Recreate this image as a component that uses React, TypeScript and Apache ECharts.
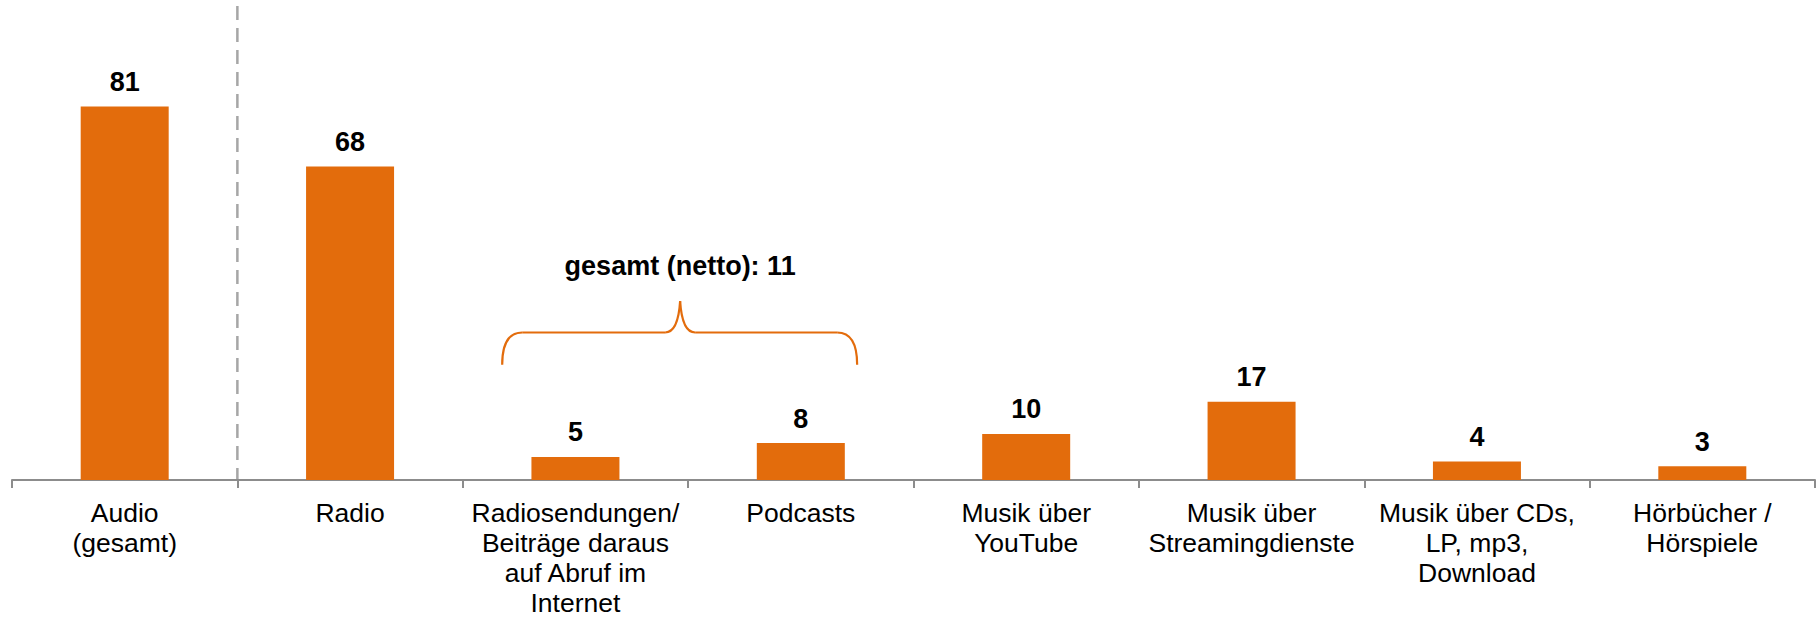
import React, { useEffect, useRef } from "react";
import * as echarts from "echarts";

const categories = [
  "Audio\n(gesamt)",
  "Radio",
  "Radiosendungen/\nBeiträge daraus\nauf Abruf im\nInternet",
  "Podcasts",
  "Musik über\nYouTube",
  "Musik über\nStreamingdienste",
  "Musik über CDs,\nLP, mp3,\nDownload",
  "Hörbücher /\nHörspiele",
];
const values = [81, 68, 5, 8, 10, 17, 4, 3];
const groupLabel = "gesamt (netto): 11";
const groupIndices = [2, 3];

const ORANGE = "#E36C0C";
const FONT = "'Liberation Sans', Arial, sans-serif";

export default function App() {
  const ref = useRef<HTMLDivElement>(null);
  useEffect(() => {
    if (!ref.current) return;
    const chart = echarts.init(ref.current, undefined, { renderer: "svg" });
    chart.setOption({
      animation: false,
      grid: { left: 12, right: 5, top: 19, bottom: 136, containLabel: false },
      xAxis: {
        type: "category",
        data: categories,
        axisLine: { lineStyle: { color: "#8C8C8C", width: 2 } },
        axisTick: { show: true, length: 8, lineStyle: { color: "#8C8C8C", width: 2 } },
        axisLabel: {
          interval: 0,
          color: "#000",
          fontSize: 26.5,
          lineHeight: 30,
          fontFamily: FONT,
          margin: 18,
        },
      },
      yAxis: {
        type: "value",
        min: 0,
        max: 100,
        show: false,
        splitLine: { show: false },
      },
      series: [
        {
          type: "bar",
          data: values,
          barWidth: 88,
          itemStyle: { color: ORANGE },
          label: {
            show: true,
            position: "top",
            distance: 11,
            color: "#000",
            fontSize: 27,
            fontWeight: "bold",
            fontFamily: FONT,
          },
        },
      ],
    });

    const cx = (i: number) => chart.convertToPixel({ xAxisIndex: 0 }, i) as number;
    const cy = (v: number) => chart.convertToPixel({ yAxisIndex: 0 }, v) as number;
    const band = cx(1) - cx(0);
    const axisY = cy(0);
    const sepX = (cx(0) + cx(1)) / 2;

    const x0 = cx(groupIndices[0]) - band * 0.325;
    const x1 = cx(groupIndices[1]) + band * 0.25;
    const tipX = (cx(groupIndices[0]) + cx(groupIndices[1])) / 2 - 8;
    const yEnd = cy(25);
    const yH = cy(32);
    const yTip = cy(38.8);
    const r = 20;
    const braceStyle = { stroke: ORANGE, lineWidth: 2.2, fill: null };

    chart.setOption({
      graphic: [
        {
          type: "line",
          shape: { x1: sepX, y1: 6, x2: sepX, y2: axisY },
          style: { stroke: "#A6A6A6", lineWidth: 2.5, lineDash: [14, 8] },
          silent: true,
        },
        {
          type: "bezierCurve",
          shape: { x1: x0, y1: yEnd, cpx1: x0, cpy1: yH, x2: x0 + r, y2: yH },
          style: braceStyle,
        },
        {
          type: "line",
          shape: { x1: x0 + r, y1: yH, x2: tipX - 15, y2: yH },
          style: braceStyle,
        },
        {
          type: "bezierCurve",
          shape: { x1: tipX - 15, y1: yH, cpx1: tipX - 2, cpy1: yH, x2: tipX, y2: yTip },
          style: braceStyle,
        },
        {
          type: "bezierCurve",
          shape: { x1: tipX, y1: yTip, cpx1: tipX + 2, cpy1: yH, x2: tipX + 15, y2: yH },
          style: braceStyle,
        },
        {
          type: "line",
          shape: { x1: tipX + 15, y1: yH, x2: x1 - r, y2: yH },
          style: braceStyle,
        },
        {
          type: "bezierCurve",
          shape: { x1: x1 - r, y1: yH, cpx1: x1, cpy1: yH, x2: x1, y2: yEnd },
          style: braceStyle,
        },
        {
          type: "text",
          x: tipX,
          y: cy(46.4),
          style: {
            text: groupLabel,
            fill: "#000",
            font: `bold 27px ${FONT}`,
            textAlign: "center",
            textVerticalAlign: "middle",
          },
        },
      ],
    });

    return () => chart.dispose();
  }, []);
  return (
    <div
      ref={ref}
      style={{ position: "fixed", left: 0, top: 0, width: 1820, height: 618, background: "#fff" }}
    />
  );
}
